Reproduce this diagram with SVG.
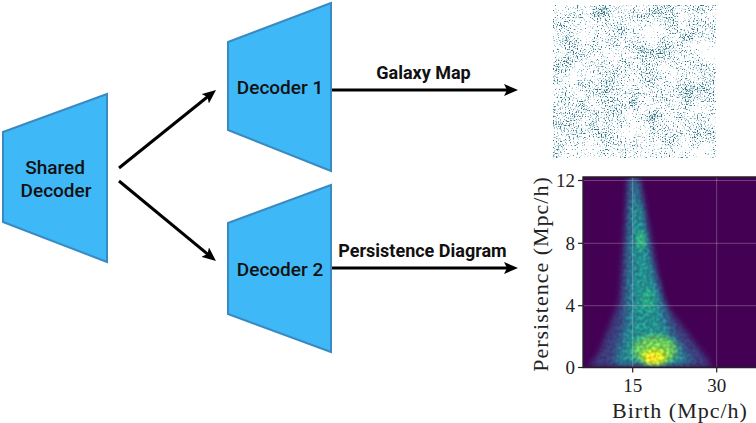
<svg xmlns="http://www.w3.org/2000/svg" width="756" height="423" viewBox="0 0 756 423">
<style>
.node{fill:#3fb8f7;stroke:#3a8ac2;stroke-width:2;stroke-linejoin:miter}
.nt{font-family:Roboto,"Noto Sans",sans-serif;font-size:19px;font-weight:500;fill:#111;text-anchor:middle}
.lbl{font-family:Roboto,"Noto Sans",sans-serif;font-size:18px;font-weight:bold;fill:#111;text-anchor:middle}
.conn{stroke:#000;stroke-width:3;fill:none}
.tick{font-family:"Liberation Serif",serif;font-size:19px;fill:#222}
.axl{font-family:"Liberation Serif",serif;font-size:22px;letter-spacing:1px;fill:#222;text-anchor:middle}
.grid{stroke:#ffffff;stroke-opacity:0.25;stroke-width:1}
</style>
<defs>
<marker id="ah" viewBox="0 0 14 12" markerWidth="14" markerHeight="12" refX="6" refY="6" orient="auto" markerUnits="userSpaceOnUse">
<path d="M0,0 L14,6 L0,12 L3,6 z" fill="#000"/>
</marker>
<filter id="galaxy" filterUnits="userSpaceOnUse" x="553" y="5" width="163" height="153" color-interpolation-filters="sRGB">
<feTurbulence type="fractalNoise" baseFrequency="0.75" numOctaves="1" seed="4" result="fine"/>
<feTurbulence type="fractalNoise" baseFrequency="0.05" numOctaves="3" seed="11" result="coarse"/>
<feComposite in="fine" in2="coarse" operator="arithmetic" k1="0" k2="0.75" k3="0.25" k4="0" result="sum"/>
<feColorMatrix in="sum" type="matrix" values="0 0 0 0 0.32  0 0 0 0 0.58  0 0 0 0 0.66  9 0 0 0 -4.85" result="dots"/>
<feColorMatrix in="sum" type="matrix" values="0 0 0 0 0.2  0 0 0 0 0.42  0 0 0 0 0.45  12 0 0 0 -7.4" result="clump"/>
<feMerge><feMergeNode in="dots"/><feMergeNode in="clump"/></feMerge>
</filter>
<filter id="blur" x="-50%" y="-50%" width="200%" height="200%">
<feGaussianBlur stdDeviation="3"/>
</filter>
<filter id="blur2" x="-50%" y="-50%" width="200%" height="200%">
<feGaussianBlur stdDeviation="2"/>
</filter>
<filter id="grain" filterUnits="userSpaceOnUse" x="583" y="177" width="173" height="190" color-interpolation-filters="sRGB">
<feTurbulence type="fractalNoise" baseFrequency="0.3" numOctaves="1" seed="2" result="n"/>
<feColorMatrix in="n" type="matrix" values="0 0 0 0 1  0 0 0 0 1  0 0 0 0 1  1 0 0 0 0" result="na"/>
<feComposite in="SourceGraphic" in2="na" operator="arithmetic" k1="0.8" k2="0.6" k3="0" k4="0"/>
</filter>
<clipPath id="plotclip"><rect x="583" y="177" width="173" height="190"/></clipPath>
</defs>

<g id="connectors">
<line class="conn" x1="119" y1="168" x2="209.8" y2="95" marker-end="url(#ah)"/>
<line class="conn" x1="119" y1="181" x2="209.8" y2="255.9" marker-end="url(#ah)"/>
<line class="conn" x1="331" y1="90" x2="510" y2="90" marker-end="url(#ah)"/>
<line class="conn" x1="331" y1="268" x2="510" y2="268" marker-end="url(#ah)"/>
<text class="lbl" x="423.5" y="79">Galaxy Map</text>
<text class="lbl" x="422.5" y="257">Persistence Diagram</text>
</g>

<g id="shared-decoder">
<polygon class="node" points="3,132 107,94 107,262 3,222"/>
<text class="nt" x="55" y="173.5">Shared</text>
<text class="nt" x="56" y="197.3">Decoder</text>
</g>

<g id="decoder-1">
<polygon class="node" points="228,42 331,3 331,171 228,130"/>
<text class="nt" x="280" y="94.3">Decoder 1</text>
</g>

<g id="decoder-2">
<polygon class="node" points="228,223 331,185 331,352 228,314"/>
<text class="nt" x="280" y="276">Decoder 2</text>
</g>

<g id="galaxy-map">
<rect x="553" y="5" width="163" height="153" fill="#fff" filter="url(#galaxy)"/>
</g>

<g id="persistence-diagram">
<rect x="583" y="177" width="173" height="190" fill="#440154"/>
<g clip-path="url(#plotclip)">
<g filter="url(#grain)">
<polygon points="628,177 639,177 662,300 708,360 712,367 588,367 598,355 620,300" fill="#3b528b" opacity="0.75" filter="url(#blur)"/>
<polygon points="630,180 638,180 652,262 672,330 694,364 612,364 624,322 627,262" fill="#2c728e" filter="url(#blur)"/>
<polygon points="633,205 640,205 648,262 663,330 682,362 622,362 632,322 634,262" fill="#21918c" filter="url(#blur)"/>
<ellipse cx="641" cy="240" rx="4" ry="9" fill="#35b779" filter="url(#blur2)"/>
<ellipse cx="648" cy="300" rx="6" ry="12" fill="#29af7f" opacity="0.7" filter="url(#blur2)"/>
<ellipse cx="655" cy="350" rx="22" ry="14" fill="#6ece58" filter="url(#blur)"/>
<ellipse cx="655" cy="356" rx="13" ry="8" fill="#b5de2b" filter="url(#blur2)"/>
<ellipse cx="653" cy="358" rx="8" ry="5" fill="#fde725" filter="url(#blur2)"/>
</g>
<line class="grid" x1="583" y1="180.5" x2="756" y2="180.5"/>
<line class="grid" x1="583" y1="243.3" x2="756" y2="243.3"/>
<line class="grid" x1="583" y1="305.7" x2="756" y2="305.7"/>
<line class="grid" x1="632.7" y1="177" x2="632.7" y2="367"/>
<line class="grid" x1="716.7" y1="177" x2="716.7" y2="367"/>
</g>
<path d="M756,177 H583 V367.5 H756" fill="none" stroke="#222" stroke-width="1.3"/>
<g stroke="#222" stroke-width="1.2">
<line x1="578" y1="180.5" x2="583" y2="180.5"/>
<line x1="578" y1="243.3" x2="583" y2="243.3"/>
<line x1="578" y1="305.7" x2="583" y2="305.7"/>
<line x1="578" y1="367.5" x2="583" y2="367.5"/>
<line x1="632.7" y1="367.5" x2="632.7" y2="372.5"/>
<line x1="716.7" y1="367.5" x2="716.7" y2="372.5"/>
</g>
<text class="tick" x="575" y="187" text-anchor="end">12</text>
<text class="tick" x="575" y="250" text-anchor="end">8</text>
<text class="tick" x="575" y="312" text-anchor="end">4</text>
<text class="tick" x="575" y="374" text-anchor="end">0</text>
<text class="tick" x="632.7" y="392" text-anchor="middle">15</text>
<text class="tick" x="716.7" y="392" text-anchor="middle">30</text>
<text class="axl" x="680" y="418">Birth (Mpc/h)</text>
<text class="axl" transform="translate(548,274) rotate(-90)">Persistence (Mpc/h)</text>
</g>
</svg>
